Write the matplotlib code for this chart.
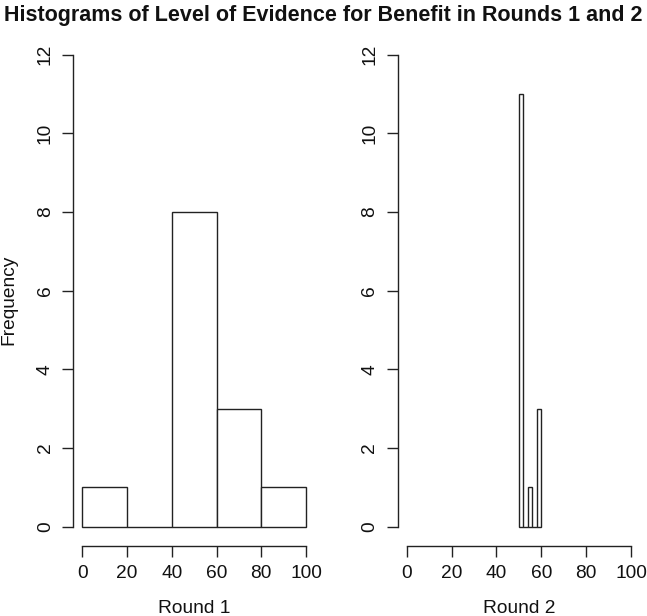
import matplotlib
matplotlib.use("Agg")
import matplotlib.pyplot as plt
import numpy as np

plt.rcParams['font.family'] = ['Liberation Sans', 'DejaVu Sans']

# Data: histogram bins and counts
round1_breaks = [0, 20, 40, 60, 80, 100]
round1_counts = [1, 0, 8, 3, 1]
round2_breaks = [50, 52, 54, 56, 58, 60]
round2_counts = [11, 0, 1, 0, 3]

xticks = [0, 20, 40, 60, 80, 100]
yticks = [0, 2, 4, 6, 8, 10, 12]
title = "Histograms of Level of Evidence for Benefit in Rounds 1 and 2"

W, H = 647, 616
fig = plt.figure(figsize=(W / 100, H / 100), dpi=100)

def px_axes(x0, x1, y0, y1):
    return fig.add_axes([x0 / W, 1 - y1 / H, (x1 - x0) / W, (y1 - y0) / H])

ax1 = px_axes(73.3, 315.0, 35.8, 545.6)
ax2 = px_axes(397.7, 640.0, 35.8, 545.6)

lc = '#222222'
for ax, br, ct, lab in [(ax1, round1_breaks, round1_counts, "Round 1"),
                         (ax2, round2_breaks, round2_counts, "Round 2")]:
    br = np.array(br, dtype=float)
    ax.bar(br[:-1], ct, width=np.diff(br), align='edge', facecolor='white',
           edgecolor=lc, linewidth=1.0)
    ax.set_xlim(-4, 104)
    ax.set_ylim(-0.48, 12.48)
    for s in ['top', 'right']:
        ax.spines[s].set_visible(False)
    ax.spines['left'].set_bounds(0, 12)
    ax.spines['bottom'].set_bounds(0, 100)
    for s in ['left', 'bottom']:
        ax.spines[s].set_color(lc)
        ax.spines[s].set_linewidth(1.0)
    ax.set_xticks(xticks)
    ax.set_yticks(yticks)
    ax.tick_params(axis='both', length=8, width=1.0, color=lc, labelsize=13.75,
                   labelcolor='#111111')
    ax.tick_params(axis='x', pad=6)
    ax.tick_params(axis='y', pad=6)
    for t in ax.get_yticklabels():
        t.set_rotation(90)
        t.set_va('center')
    ax.set_xlabel(lab, fontsize=13.75, labelpad=13, color='#111111')

ax1.set_ylabel("Frequency", fontsize=13.75, color='#111111', va='center')
ax1.yaxis.set_label_coords((9 - 73.3) / 241.7, (545.6 - 300) / 509.8)

fig.text(0.5, 1 - 16 / H, title, ha='center', va='center', fontsize=15.5,
         fontweight='bold', color='#111111')

fig.savefig("out.png", dpi=100, facecolor='white')
